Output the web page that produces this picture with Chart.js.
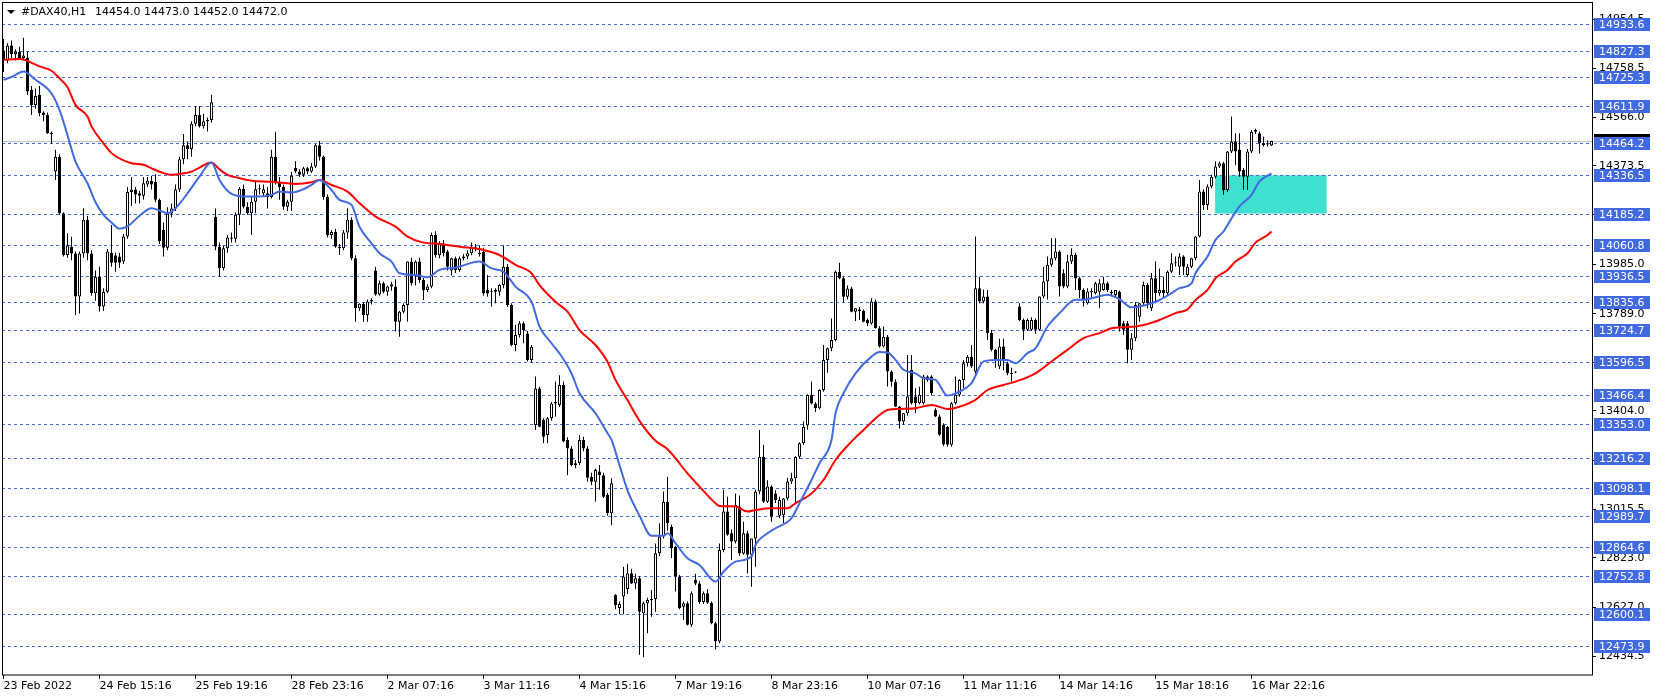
<!DOCTYPE html>
<html>
<head>
<meta charset="utf-8">
<script src="https://cdn.jsdelivr.net/npm/chart.js@4.4.1/dist/chart.umd.min.js"></script>
<style>
  html, body { margin: 0; padding: 0; background: #fff; }
</style>
</head>
<body>
<canvas id="chart" width="1656" height="699"></canvas>
<script>
// #DAX40 H1 candles, bar 0 = first bar on screen (23 Feb 2022)
const symbolTitle = "#DAX40,H1";
const lastBarOHLC = [14454.0, 14473.0, 14452.0, 14472.0];
const bidPrice = 14472.0;

const opens = [
  14830,14790,14850,14815,14825,14800,14800,14675,14614,14655,
  14585,14575,14503,14351,14410,14186,14021,14053,14027,13857,
  14027,14160,14027,13870,13935,13817,13876,14030,14020,14015,
  13995,14094,14270,14280,14265,14255,14300,14315,14310,14240,
  14120,14050,14185,14205,14280,14400,14455,14440,14540,14575,
  14530,14550,14555,14172,14054,13970,14048,14090,14085,14180,
  14283,14212,14186,14232,14281,14265,14265,14250,14410,14311,
  14290,14212,14232,14365,14351,14338,14364,14351,14371,14455,
  14410,14250,14100,14112,14054,14048,14110,14160,14008,13810,
  13828,13784,13837,13960,13865,13909,13876,13896,13896,13757,
  13797,13823,13995,13936,13995,13922,13883,13896,14100,14020,
  14067,14035,13960,14008,13962,14008,14015,14028,14054,14025,
  14034,13883,13880,13876,13876,13902,13975,13823,13665,13705,
  13751,13711,13606,13349,13493,13368,13309,13375,13434,13428,
  13507,13289,13256,13190,13197,13289,13256,13144,13124,13165,
  13150,13072,12999,12676,12625,12670,12700,12762,12722,12742,
  12604,12643,12656,12660,12841,12907,13045,12946,12867,12749,
  12630,12643,12558,12735,12722,12648,12683,12645,12564,12492,
  12854,13006,12920,12888,13026,12840,12920,12835,12900,13085,
  13223,13045,13105,13078,12990,12992,13058,13125,13138,13223,
  13276,13348,13467,13434,13415,13487,13606,13652,13685,13955,
  13929,13856,13889,13797,13805,13800,13764,13750,13837,13731,
  13659,13698,13560,13520,13421,13362,13395,13567,13461,13435,
  13435,13540,13540,13408,13382,13350,13342,13270,13435,13468,
  13527,13593,13619,13560,13890,13837,13857,13712,13646,13580,
  13659,13593,13553,13556,13817,13764,13725,13725,13764,13725,
  13857,13916,13982,14008,14035,13949,13896,13995,14022,13929,
  13883,13830,13877,13870,13876,13883,13909,13876,13863,13876,
  13751,13751,13646,13692,13777,13830,13902,13810,13929,13870,
  13883,13870,13955,13988,13975,14015,13942,13975,14008,14094,
  14272,14219,14292,14331,14371,14384,14278,14430,14470,14437,
  14358,14331,14430,14509,14503,14463,14458,14454
];
const highs = [
  14875,14860,14870,14835,14845,14880,14826,14690,14680,14690,
  14590,14585,14510,14437,14420,14190,14107,14093,14035,14035,
  14206,14175,14040,13960,13975,13890,14045,14140,14030,14030,
  14105,14290,14330,14290,14275,14330,14330,14335,14340,14245,
  14150,14210,14225,14300,14410,14500,14470,14550,14610,14610,
  14580,14565,14655,14205,14070,14060,14100,14110,14190,14290,
  14300,14230,14250,14318,14300,14300,14290,14437,14509,14330,
  14300,14240,14350,14392,14360,14370,14370,14385,14460,14472,
  14415,14260,14120,14125,14065,14120,14206,14170,14020,13830,
  13835,13845,13850,13975,13920,13915,13900,13915,13925,13800,
  13830,13995,14010,14000,14010,13930,13905,14110,14115,14075,
  14080,14041,14010,14015,14015,14025,14040,14070,14065,14060,
  14050,13942,13890,13890,13905,14060,13985,13830,13745,13760,
  13758,13720,13665,13540,13500,13375,13380,13440,13520,13545,
  13520,13300,13265,13210,13309,13302,13265,13160,13175,13190,
  13160,13080,13138,12680,12650,12788,12800,12780,12760,12750,
  12650,12665,12696,12880,12960,13085,13144,12955,12870,12755,
  12650,12650,12690,12760,12730,12690,12700,12650,12570,12880,
  13092,13065,12935,13078,13070,12966,12930,12900,13092,13329,
  13270,13130,13110,13090,13065,13060,13140,13160,13225,13280,
  13362,13470,13520,13440,13490,13665,13655,13770,13960,13990,
  13935,13900,13895,13810,13815,13805,13770,13850,13845,13740,
  13738,13705,13565,13530,13425,13395,13625,13625,13494,13500,
  13547,13545,13545,13415,13390,13355,13345,13440,13540,13530,
  13605,13625,13665,14094,13935,13885,13883,13725,13650,13690,
  13690,13600,13575,13560,13830,13770,13770,13775,13770,13857,
  13975,14015,14087,14087,14040,13965,14022,14048,14030,13935,
  13890,13890,13890,13915,13925,13935,13915,13883,13883,13880,
  13760,13760,13712,13835,13830,13916,13910,13950,13995,13968,
  13935,13960,14028,14015,14028,14020,13985,14010,14095,14318,
  14280,14300,14338,14391,14391,14390,14432,14569,14503,14503,
  14365,14440,14516,14520,14510,14490,14475,14473
];
const lows = [
  14745,14780,14800,14790,14795,14795,14654,14575,14600,14570,
  14550,14500,14460,14318,14180,14015,14010,14000,13784,13790,
  14010,14000,13860,13840,13798,13800,13870,13975,13955,13970,
  13985,14085,14215,14225,14225,14240,14290,14280,14230,14065,
  14015,14040,14170,14195,14270,14380,14400,14410,14530,14525,
  14520,14510,14545,14040,13935,13960,14030,14070,14070,14140,
  14205,14180,14100,14186,14260,14250,14205,14245,14300,14240,
  14200,14195,14195,14345,14330,14330,14340,14345,14365,14395,
  14240,14090,14085,14050,14021,14040,14085,14000,13757,13800,
  13757,13757,13825,13860,13860,13870,13860,13880,13718,13698,
  13790,13757,13900,13900,13910,13843,13875,13890,14010,14008,
  14015,13960,13940,13950,13955,14000,14005,14020,14035,14015,
  13860,13856,13817,13830,13860,13890,13815,13660,13640,13695,
  13672,13600,13595,13329,13340,13276,13276,13365,13382,13420,
  13280,13150,13185,13177,13190,13245,13125,13110,13045,13092,
  13060,12990,12953,12620,12600,12600,12680,12720,12700,12440,
  12430,12525,12590,12610,12830,12900,12930,12822,12690,12620,
  12577,12555,12550,12715,12640,12640,12640,12560,12460,12485,
  12845,12910,12815,12880,12830,12835,12762,12709,12788,13075,
  13040,13040,12966,13040,12980,12960,13050,13115,13035,13215,
  13270,13330,13430,13400,13410,13480,13555,13640,13680,13925,
  13835,13845,13795,13760,13765,13755,13740,13745,13730,13655,
  13655,13501,13501,13420,13335,13350,13385,13430,13395,13430,
  13430,13520,13465,13380,13305,13265,13263,13263,13430,13460,
  13495,13580,13575,13545,13830,13830,13685,13640,13575,13570,
  13565,13545,13520,13553,13760,13685,13720,13720,13710,13720,
  13850,13845,13975,14000,13857,13890,13890,13985,13883,13850,
  13817,13825,13855,13865,13810,13880,13875,13860,13855,13718,
  13705,13593,13606,13680,13757,13820,13810,13800,13830,13860,
  13855,13863,13950,13975,13942,13942,13935,13970,14000,14090,
  14199,14199,14285,14325,14365,14259,14270,14425,14377,14331,
  14278,14278,14425,14500,14423,14450,14450,14452
];
const closes = [
  14790,14850,14815,14825,14800,14810,14668,14614,14650,14582,
  14575,14503,14500,14410,14186,14021,14060,14027,13857,14027,
  14160,14027,13870,13935,13817,13876,14035,13990,13990,13990,
  14094,14270,14280,14260,14255,14305,14315,14300,14240,14075,
  14050,14185,14205,14280,14400,14455,14440,14540,14575,14530,
  14550,14555,14625,14054,13970,14048,14090,14085,14180,14283,
  14212,14186,14232,14281,14285,14281,14250,14410,14311,14290,
  14212,14232,14335,14351,14338,14364,14351,14371,14455,14410,
  14250,14100,14112,14054,14048,14110,14160,14008,13810,13828,
  13784,13837,13843,13865,13909,13876,13896,13905,13757,13797,
  13823,13995,13909,13995,13922,13883,13896,14100,14020,14067,
  14028,13975,14008,13962,14008,14015,14028,14054,14050,14030,
  13869,13869,13876,13883,13902,13975,13823,13665,13705,13751,
  13724,13606,13658,13493,13342,13302,13375,13434,13440,13507,
  13283,13256,13190,13197,13289,13256,13140,13124,13171,13150,
  13065,12999,13118,12637,12640,12749,12762,12722,12742,12610,
  12643,12656,12660,12841,12907,13045,12960,12861,12749,12624,
  12643,12558,12683,12722,12648,12683,12645,12564,12492,12854,
  13006,12914,12888,13032,12840,12920,12835,12900,13085,13223,
  13045,13105,12986,13052,13052,13058,13125,13138,13223,13276,
  13342,13467,13434,13415,13487,13606,13652,13685,13955,13929,
  13856,13889,13797,13810,13800,13757,13750,13837,13731,13659,
  13698,13560,13520,13421,13362,13395,13461,13435,13435,13468,
  13540,13527,13474,13382,13310,13271,13270,13435,13468,13527,
  13593,13619,13580,13890,13837,13857,13712,13646,13606,13659,
  13606,13553,13550,13557,13764,13725,13764,13764,13725,13857,
  13916,13982,14008,14035,13896,13896,13995,14022,13929,13883,
  13844,13877,13875,13909,13909,13909,13883,13870,13883,13738,
  13725,13646,13692,13823,13830,13902,13830,13929,13870,13883,
  13870,13955,13988,13990,14015,13975,13975,14008,14094,14272,
  14219,14292,14331,14371,14384,14278,14430,14470,14430,14351,
  14331,14430,14509,14516,14463,14456,14463,14472
];

// moving averages: [bar, price]
const fastMa = [
  [0,14714],[2,14725],[5,14747],[8,14714],[12,14660],[14,14595],[16,14495],[18,14390],
  [21,14305],[23,14230],[25,14180],[27,14150],[29,14125],[31,14134],[34,14176],[37,14206],
  [39,14197],[41,14186],[43,14206],[46,14265],[49,14331],[52,14387],[54,14318],[57,14263],
  [61,14252],[64,14252],[67,14259],[69,14272],[72,14268],[75,14281],[77,14298],[79,14318],
  [82,14278],[84,14239],[87,14219],[89,14133],[92,14067],[94,14028],[97,13995],[99,13949],
  [103,13942],[106,13933],[109,13962],[113,13971],[119,13995],[122,13968],[125,13955],
  [128,13896],[132,13836],[134,13738],[137,13672],[139,13632],[142,13553],[144,13474],
  [148,13395],[151,13316],[152,13290],[154,13190],[156,13090],[159,12990],[162,12910],
  [165,12910],[166,12920],[168,12881],[171,12821],[174,12795],[178,12729],[180,12768],
  [183,12808],[187,12828],[188,12874],[191,12920],[193,12940],[197,12980],[199,13039],
  [202,13131],[204,13197],[207,13289],[208,13395],[210,13474],[213,13553],[217,13619],
  [219,13637],[221,13635],[223,13606],[225,13567],[228,13553],[230,13534],[233,13527],
  [236,13465],[238,13474],[242,13514],[245,13600],[248,13606],[251,13606],[253,13593],
  [256,13633],[258,13652],[261,13738],[264,13791],[268,13844],[270,13844],[273,13854],
  [276,13864],[279,13846],[282,13814],[284,13817],[287,13830],[289,13843],[292,13870],
  [294,13890],[297,13909],[298,13949],[301,14015],[303,14081],[305,14114],[307,14166],
  [309,14213],[312,14259],[314,14312],[317,14344]
];
const slowMa = [
  [0,14793],[4,14796],[9,14767],[12,14750],[14,14720],[16,14685],[18,14615],[21,14569],
  [22,14530],[25,14463],[27,14424],[30,14395],[32,14384],[35,14378],[37,14364],[40,14345],
  [42,14338],[44,14342],[47,14351],[49,14367],[52,14387],[54,14360],[56,14338],[58,14329],
  [62,14315],[67,14311],[71,14305],[73,14302],[77,14309],[79,14318],[82,14298],[86,14272],
  [89,14226],[93,14173],[98,14133],[101,14094],[105,14070],[109,14065],[114,14054],
  [120,14041],[124,14021],[128,13982],[132,13949],[134,13902],[138,13836],[141,13797],
  [144,13724],[148,13665],[151,13599],[153,13527],[156,13447],[159,13365],[163,13286],
  [166,13253],[168,13217],[171,13157],[174,13105],[178,13039],[179,13028],[183,13026],
  [186,13006],[188,13012],[192,13019],[196,13019],[198,13039],[202,13078],[205,13131],
  [208,13210],[212,13283],[215,13329],[219,13388],[221,13408],[224,13412],[228,13415],
  [232,13428],[236,13412],[239,13421],[243,13448],[246,13487],[250,13507],[253,13520],
  [258,13553],[262,13600],[266,13646],[270,13692],[274,13712],[277,13731],[280,13735],
  [283,13738],[286,13748],[289,13764],[293,13791],[296,13806],[298,13843],[301,13883],
  [303,13929],[306,13962],[308,13995],[311,14028],[313,14070],[316,14100],[317,14114]
];

// horizontal levels drawn on the chart
const levels = [
  14933.6, 14827.3, 14725.3, 14611.9, 14464.2, 14336.5, 14185.2, 14060.8, 13936.5,
  13835.6, 13724.7, 13596.5, 13466.4, 13353.0, 13216.2, 13098.1, 12989.7, 12864.6,
  12752.8, 12600.1, 12473.9
];
// rectangle zone: bars and prices
const zoneBars = [302.9, 330.8];
const zonePrices = [14336.5, 14185.2];

// axis ticks
const priceTicks = [
  14954.5, 14758.5, 14566.0, 14373.5, 14181.0, 13985.0, 13789.0, 13597.0,
  13404.0, 13210.0, 13015.5, 12823.0, 12627.0, 12434.5
];
const dateTickBars = [0, 24, 48, 72, 96, 120, 144, 168, 192, 216, 240, 264, 288, 312];
const dateTickLabels = [
  "23 Feb 2022", "24 Feb 15:16", "25 Feb 19:16", "28 Feb 23:16", "2 Mar 07:16",
  "3 Mar 11:16", "4 Mar 15:16", "7 Mar 19:16", "8 Mar 23:16", "10 Mar 07:16",
  "11 Mar 11:16", "14 Mar 14:16", "15 Mar 18:16", "16 Mar 22:16"
];

const BLUE = '#4169E1';
const FONT = "'DejaVu Sans', sans-serif";
Chart.defaults.font.family = FONT;
Chart.defaults.font.size = 11;
Chart.defaults.color = '#000';

const bars = opens.map((_, i) => i);
const wickData = bars.map(i => ({ x: i, y: [lows[i], highs[i]] }));
const bodyData = bars.map(i => ({ x: i, y: [opens[i], closes[i]] }));
const bodyFill = bars.map(i => closes[i] >= opens[i] ? '#ffffff' : '#000000');

const overlay = {
  id: 'overlay',
  beforeDatasetsDraw(chart) {
    const { ctx, chartArea: a, scales: { x, y } } = chart;
    ctx.save();
    ctx.beginPath();
    ctx.rect(a.left, a.top, a.right - a.left, a.bottom - a.top);
    ctx.clip();
    // zone
    const zx0 = x.getPixelForValue(zoneBars[0]);
    const zx1 = x.getPixelForValue(zoneBars[1]);
    const zy0 = y.getPixelForValue(zonePrices[0]);
    const zy1 = y.getPixelForValue(zonePrices[1]);
    ctx.fillStyle = '#40E0D0';
    ctx.fillRect(zx0, zy0, zx1 - zx0, zy1 - zy0);
    // bid line
    const by = Math.round(y.getPixelForValue(bidPrice)) + 0.5;
    ctx.strokeStyle = '#C0C0C0';
    ctx.lineWidth = 1;
    ctx.beginPath();
    ctx.moveTo(a.left, by);
    ctx.lineTo(a.right, by);
    ctx.stroke();
    // dashed levels
    ctx.strokeStyle = BLUE;
    ctx.setLineDash([3, 3]);
    levels.forEach(v => {
      const py = Math.round(y.getPixelForValue(v)) + 0.5;
      ctx.beginPath();
      ctx.moveTo(a.left, py);
      ctx.lineTo(a.right, py);
      ctx.stroke();
    });
    ctx.restore();
  },
  afterDraw(chart) {
    const { ctx, chartArea: a, scales: { y } } = chart;
    ctx.save();
    // frame
    ctx.strokeStyle = '#000';
    ctx.lineWidth = 1;
    ctx.strokeRect(a.left + 0.5, a.top - 0.5, a.right - a.left, a.bottom - a.top + 0.5);
    // title
    ctx.fillStyle = '#000';
    ctx.beginPath();
    ctx.moveTo(7, 10);
    ctx.lineTo(15, 10);
    ctx.lineTo(11, 14);
    ctx.closePath();
    ctx.fill();
    ctx.font = '11px ' + FONT;
    ctx.textBaseline = 'middle';
    ctx.textAlign = 'left';
    ctx.fillText(symbolTitle, 21, 12);
    ctx.fillText(lastBarOHLC.map(v => v.toFixed(1)).join(' '), 95, 12);
    // bid marker on the price scale
    const bidY = Math.round(y.getPixelForValue(bidPrice));
    ctx.fillStyle = '#000';
    ctx.fillRect(a.right + 2, bidY - 7, 56, 13);
    // level labels
    levels.forEach(v => {
      const py = Math.round(y.getPixelForValue(v));
      ctx.fillStyle = BLUE;
      ctx.fillRect(a.right + 2, py - 6, 56, 13);
      ctx.fillStyle = '#fff';
      ctx.fillText(v.toFixed(1), a.right + 7, py + 1);
    });
    ctx.restore();
  }
};

new Chart(document.getElementById('chart'), {
  type: 'bar',
  data: {
    datasets: [
      {
        type: 'line', data: fastMa.map(([i, v]) => ({ x: i, y: v })),
        borderColor: BLUE, borderWidth: 2, pointRadius: 0,
        cubicInterpolationMode: 'monotone', order: 0
      },
      {
        type: 'line', data: slowMa.map(([i, v]) => ({ x: i, y: v })),
        borderColor: '#FF0000', borderWidth: 2, pointRadius: 0,
        cubicInterpolationMode: 'monotone', order: 1
      },
      {
        data: bodyData, backgroundColor: bodyFill, borderColor: '#000', borderWidth: 1,
        borderSkipped: false, barThickness: 3, grouped: false, minBarLength: 1,
        inflateAmount: 0, order: 2
      },
      {
        data: wickData, backgroundColor: '#000', borderWidth: 0, barThickness: 1,
        grouped: false, inflateAmount: 0, order: 3
      }
    ]
  },
  options: {
    responsive: false,
    maintainAspectRatio: false,
    animation: false,
    events: [],
    layout: { padding: { left: 2, top: 3, right: 0, bottom: 0 } },
    plugins: { legend: { display: false }, tooltip: { enabled: false } },
    scales: {
      x: {
        type: 'linear', min: -0.375, max: 397.125, offset: false,
        afterBuildTicks: s => { s.ticks = dateTickBars.map(v => ({ value: v })); },
        afterFit: s => { s.height = 24; s.paddingLeft = 0; s.paddingRight = 0; },
        ticks: {
          autoSkip: false, maxRotation: 0, minRotation: 0, align: 'start', padding: 1,
          callback: (v, i) => dateTickLabels[i]
        },
        grid: { drawOnChartArea: false, tickLength: 4, color: '#000', offset: false },
        border: { display: false }
      },
      y: {
        type: 'linear', position: 'right', min: 12359.6, max: 15017.9, beginAtZero: false,
        afterBuildTicks: s => { s.ticks = priceTicks.map(v => ({ value: v })); },
        afterFit: s => { s.width = 64; s.paddingTop = 0; s.paddingBottom = 0; },
        ticks: { autoSkip: false, padding: 3, callback: v => Number(v).toFixed(1) },
        grid: { drawOnChartArea: false, tickLength: 4, color: '#000' },
        border: { display: false }
      }
    }
  },
  plugins: [overlay]
});
</script>
</body>
</html>
